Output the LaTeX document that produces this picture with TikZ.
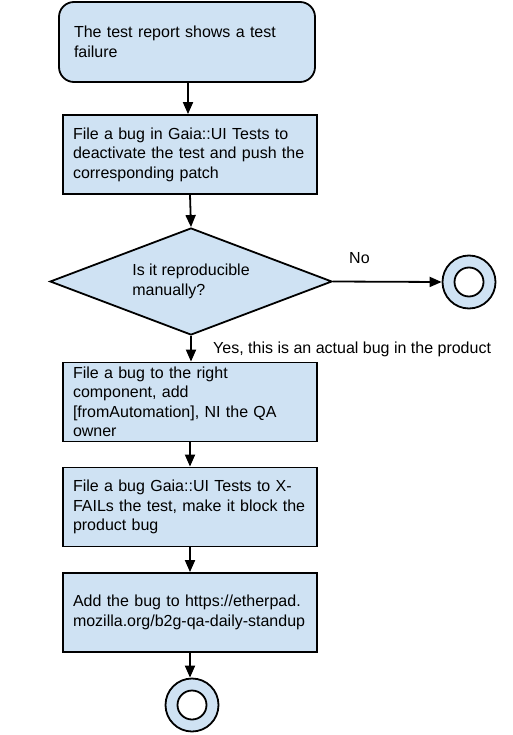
\documentclass[tikz,border=0pt]{standalone}
\usepackage{fontspec}
\setmainfont{Liberation Sans}
\usetikzlibrary{arrows.meta,shapes.geometric}
\definecolor{boxblue}{HTML}{CFE2F3}
\begin{document}
\begin{tikzpicture}[x=1pt,y=-1pt,
  every node/.style={font=\fontsize{16}{19.5}\selectfont},
  stepbox/.style={draw=black,line width=1.8pt,fill=boxblue,rectangle,
    minimum width=254pt,minimum height=79pt,inner xsep=10pt,align=left,
    text width=234pt},
  startbox/.style={stepbox,rounded corners=15pt,inner xsep=15pt,text width=226pt,minimum width=256pt,minimum height=80pt},
  decision/.style={draw=black,line width=1.8pt,fill=boxblue,diamond,aspect=2.6,
    minimum width=282pt,minimum height=107pt,inner sep=0pt,align=left},
  endring/.style={draw=black,line width=1.8pt,fill=boxblue,circle,minimum size=53pt,inner sep=0pt},
  endhole/.style={draw=black,line width=1.8pt,fill=white,circle,minimum size=29pt,inner sep=0pt},
  flow/.style={draw=black,line width=1.8pt,-{Triangle[length=12pt,width=10pt]}},
  lbl/.style={inner sep=0pt,anchor=base west}]
\useasboundingbox (0,0) rectangle (512,735);
\node[startbox] (start) at (187,42) {The test report shows a test\\failure};
\node[stepbox] (deact) at (190,154.5) {File a bug in Gaia::UI Tests to\\deactivate the test and push the\\corresponding patch};
\node[decision] (repro) at (191,281.5) {Is it reproducible\\manually?};
\node[endring] (endno) at (469,282) {};
\node[endhole] (endnoin) at (469,282) {};
\node[stepbox] (filebug) at (190,402) {File a bug to the right\\component, add\\{[}fromAutomation{]}, NI the QA\\owner};
\node[stepbox] (xfail) at (190,507) {File a bug Gaia::UI Tests to X-\\FAILs the test, make it block the\\product bug};
\node[stepbox] (pad) at (190,612.5) {Add the bug to https://etherpad.\\mozilla.org/b2g-qa-daily-standup};
\node[endring] (endyes) at (192,705) {};
\node[endhole] (endyesin) at (192,705) {};
\draw[flow] (start.south -| 188,0) -- (deact.north -| 188,0);
\draw[flow] (deact.south) -- (repro.north);
\draw[flow] (repro.east) -- (endno.west);
\draw[flow] (repro.south) -- (filebug.north -| repro.south);
\draw[flow] (filebug.south) -- (xfail.north);
\draw[flow] (xfail.south) -- (pad.north);
\draw[flow] (pad.south) -- (endyes.north -| pad.south);
\node[lbl] (nolbl) at (349,263) {No};
\node[lbl] (yeslbl) at (213,353) {Yes, this is an actual bug in the product};
\end{tikzpicture}
\end{document}
